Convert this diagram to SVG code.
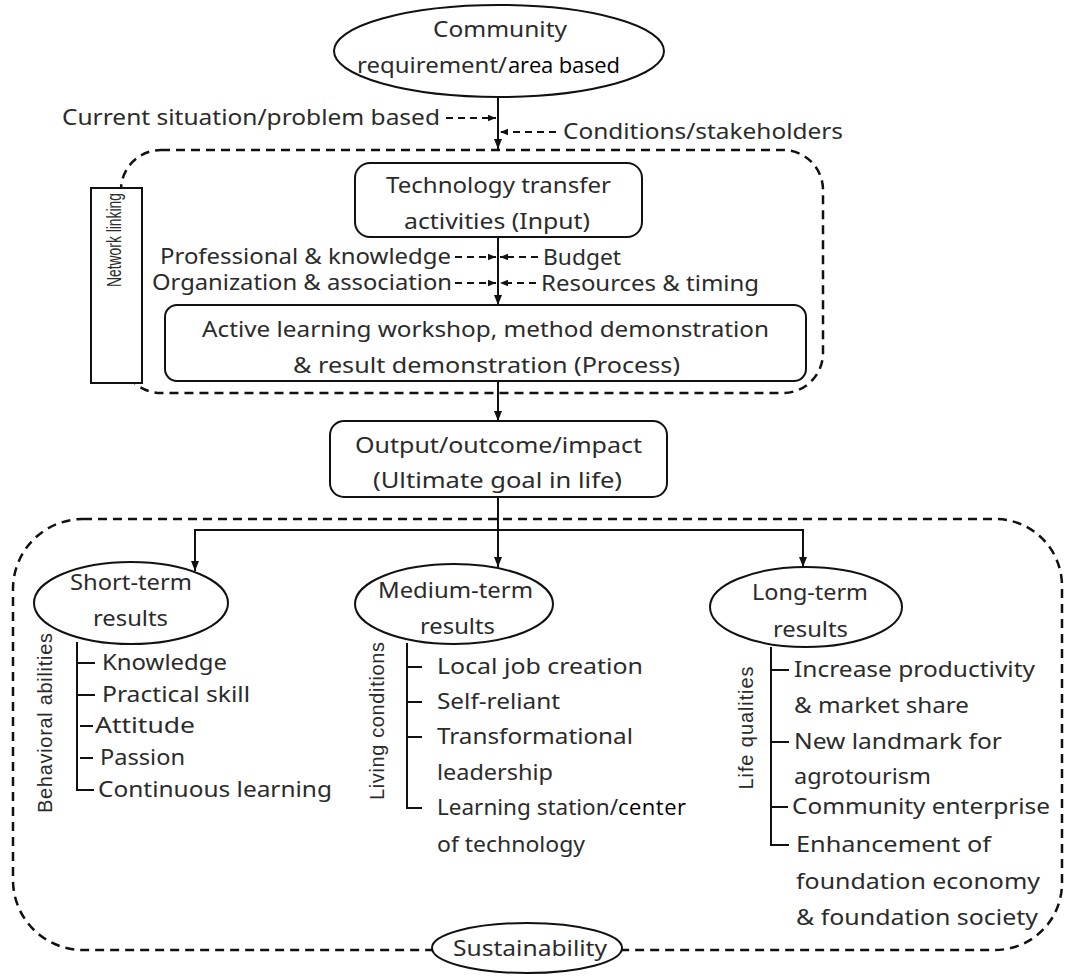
<svg xmlns="http://www.w3.org/2000/svg" width="1065" height="976" viewBox="0 0 1065 976">
<defs>
<style>
.t{font-family:"Noto Sans","Open Sans",sans-serif;font-size:21px;fill:#2b2b2b}
.k{font-family:"Open Sans","Noto Sans",sans-serif;font-size:22px;fill:#000}
.r{font-family:"Liberation Sans",Arial,sans-serif;font-size:20px;fill:#2b2b2b}
.m{text-anchor:middle}
.box{fill:#fff;stroke:#111;stroke-width:2}
.dash{fill:none;stroke:#111;stroke-width:2.5;stroke-dasharray:9 6}
.ln{fill:none;stroke:#111;stroke-width:2}
.dl{fill:none;stroke:#111;stroke-width:2;stroke-dasharray:7 5}
</style>
<marker id="ah" viewBox="0 0 10 10" refX="10" refY="5" markerWidth="10" markerHeight="10" markerUnits="userSpaceOnUse" orient="auto"><path d="M0,1 L10,5 L0,9 z" fill="#111"/></marker>
<marker id="as" viewBox="0 0 10 10" refX="10" refY="5" markerWidth="8" markerHeight="8" markerUnits="userSpaceOnUse" orient="auto"><path d="M0,1 L10,5 L0,9 z" fill="#111"/></marker>
</defs>
<rect width="1065" height="976" fill="#fff"/>

<g id="groups">
<rect id="dashed-top" class="dash" x="121" y="150" width="702" height="243" rx="40"/>
<path id="dashed-bottom" class="dash" d="M83,519 H995 A67,67 0 0 1 1062,586 V883 A67,67 0 0 1 995,950 H83 A70,70 0 0 1 13,880 V589 A70,70 0 0 1 83,519 Z"/>
</g>

<g id="connectors">
<line class="ln" x1="498" y1="97" x2="498" y2="149" marker-end="url(#ah)"/>
<line class="dl" x1="446" y1="118" x2="496" y2="118" marker-end="url(#as)"/>
<line class="dl" x1="556" y1="132" x2="500" y2="132" marker-end="url(#as)"/>
<line class="ln" x1="498" y1="237" x2="498" y2="305" marker-end="url(#ah)"/>
<line class="dl" x1="455" y1="257" x2="496" y2="257" marker-end="url(#as)"/>
<line class="dl" x1="538" y1="257" x2="500" y2="257" marker-end="url(#as)"/>
<line class="dl" x1="455" y1="283" x2="496" y2="283" marker-end="url(#as)"/>
<line class="dl" x1="536" y1="283" x2="500" y2="283" marker-end="url(#as)"/>
<line class="ln" x1="498" y1="381" x2="498" y2="421" marker-end="url(#ah)"/>
<line class="ln" x1="498" y1="497" x2="498" y2="530"/>
<line class="ln" x1="194" y1="530" x2="804" y2="530"/>
<line class="ln" x1="195" y1="529" x2="195" y2="571" marker-end="url(#ah)"/>
<line class="ln" x1="498" y1="530" x2="498" y2="567" marker-end="url(#ah)"/>
<line class="ln" x1="803" y1="529" x2="803" y2="567" marker-end="url(#ah)"/>
<path class="ln" d="M77,642 V790 H94 M77,663 H95 M77,695 H95 M80,726 H93 M80,758 H93"/>
<path class="ln" d="M407,643 V808 H422 M407,667 H422 M407,702 H422 M407,737 H422"/>
<path class="ln" d="M771,647 V845 H789 M771,670 H789 M771,742 H789 M771,807 H788"/>
</g>

<g id="community">
<ellipse class="box" cx="499" cy="51" rx="165" ry="46"/>
<text class="t m" x="500" y="37" textLength="134" lengthAdjust="spacingAndGlyphs">Community</text>
<text class="t" x="357" y="73" textLength="150" lengthAdjust="spacingAndGlyphs">requirement/</text>
<text class="k" x="508" y="73" textLength="112">area based</text>
</g>

<g id="side-labels-top">
<text class="t" x="62" y="125" textLength="378" lengthAdjust="spacingAndGlyphs">Current situation/problem based</text>
<text class="t" x="563" y="139" textLength="280" lengthAdjust="spacingAndGlyphs">Conditions/stakeholders</text>
</g>

<g id="network-linking">
<rect class="box" x="91" y="188" width="51" height="195"/>
<text class="r m" font-size="15" transform="translate(121,240) rotate(-90)" textLength="94" lengthAdjust="spacingAndGlyphs">Network linking</text>
</g>

<g id="tech-transfer">
<rect class="box" x="355" y="163" width="287" height="74" rx="15"/>
<text class="t" x="386" y="193" textLength="225" lengthAdjust="spacingAndGlyphs">Technology transfer</text>
<text class="t" x="404" y="229" textLength="186" lengthAdjust="spacingAndGlyphs">activities (Input)</text>
</g>

<g id="inputs">
<text class="t" x="160" y="264" textLength="291" lengthAdjust="spacingAndGlyphs">Professional &amp; knowledge</text>
<text class="t" x="543" y="265" textLength="78" lengthAdjust="spacingAndGlyphs">Budget</text>
<text class="t" x="152" y="290" textLength="300" lengthAdjust="spacingAndGlyphs">Organization &amp; association</text>
<text class="t" x="541" y="291" textLength="218" lengthAdjust="spacingAndGlyphs">Resources &amp; timing</text>
</g>

<g id="process">
<rect class="box" x="165" y="305" width="641" height="76" rx="12"/>
<text class="t" x="202" y="337" textLength="567" lengthAdjust="spacingAndGlyphs">Active learning workshop, method demonstration</text>
<text class="t" x="293" y="373" textLength="387" lengthAdjust="spacingAndGlyphs">&amp; result demonstration (Process)</text>
</g>

<g id="output">
<rect class="box" x="330" y="421" width="337" height="76" rx="14"/>
<text class="t" x="355" y="453" textLength="287" lengthAdjust="spacingAndGlyphs">Output/outcome/impact</text>
<text class="t" x="373" y="488" textLength="249" lengthAdjust="spacingAndGlyphs">(Ultimate goal in life)</text>
</g>

<g id="short-term">
<ellipse class="box" cx="131" cy="603" rx="97" ry="41"/>
<text class="t" x="70" y="590" textLength="122" lengthAdjust="spacingAndGlyphs">Short-term</text>
<text class="t" x="93" y="626" textLength="75" lengthAdjust="spacingAndGlyphs">results</text>
<text class="r m" transform="translate(52,723) rotate(-90)" textLength="180">Behavioral abilities</text>
<text class="t" x="102" y="670" textLength="125" lengthAdjust="spacingAndGlyphs">Knowledge</text>
<text class="t" x="102" y="702" textLength="148" lengthAdjust="spacingAndGlyphs">Practical skill</text>
<text class="t" x="95" y="733" textLength="100" lengthAdjust="spacingAndGlyphs">Attitude</text>
<text class="t" x="100" y="765" textLength="85" lengthAdjust="spacingAndGlyphs">Passion</text>
<text class="t" x="98" y="797" textLength="234" lengthAdjust="spacingAndGlyphs">Continuous learning</text>
</g>

<g id="medium-term">
<ellipse class="box" cx="454" cy="604" rx="99" ry="40"/>
<text class="t" x="378" y="598" textLength="155" lengthAdjust="spacingAndGlyphs">Medium-term</text>
<text class="t" x="420" y="634" textLength="75" lengthAdjust="spacingAndGlyphs">results</text>
<text class="r m" transform="translate(384,721) rotate(-90)" textLength="158">Living conditions</text>
<text class="t" x="437" y="674" textLength="206" lengthAdjust="spacingAndGlyphs">Local job creation</text>
<text class="t" x="437" y="709" textLength="123" lengthAdjust="spacingAndGlyphs">Self-reliant</text>
<text class="t" x="437" y="744" textLength="196" lengthAdjust="spacingAndGlyphs">Transformational</text>
<text class="t" x="437" y="780" textLength="116" lengthAdjust="spacingAndGlyphs">leadership</text>
<text class="t" x="437" y="815" textLength="181" lengthAdjust="spacingAndGlyphs">Learning station/</text>
<text class="k" x="618" y="815" textLength="68">center</text>
<text class="t" x="437" y="852" textLength="148" lengthAdjust="spacingAndGlyphs">of technology</text>
</g>

<g id="long-term">
<ellipse class="box" cx="806" cy="607" rx="96" ry="40"/>
<text class="t" x="752" y="600" textLength="116" lengthAdjust="spacingAndGlyphs">Long-term</text>
<text class="t" x="773" y="637" textLength="75" lengthAdjust="spacingAndGlyphs">results</text>
<text class="r m" transform="translate(753,728) rotate(-90)" textLength="123">Life qualities</text>
<text class="t" x="794" y="677" textLength="241" lengthAdjust="spacingAndGlyphs">Increase productivity</text>
<text class="t" x="794" y="713" textLength="175" lengthAdjust="spacingAndGlyphs">&amp; market share</text>
<text class="t" x="794" y="749" textLength="208" lengthAdjust="spacingAndGlyphs">New landmark for</text>
<text class="t" x="794" y="784" textLength="137" lengthAdjust="spacingAndGlyphs">agrotourism</text>
<text class="t" x="792" y="814" textLength="258" lengthAdjust="spacingAndGlyphs">Community enterprise</text>
<text class="t" x="796" y="852" textLength="195" lengthAdjust="spacingAndGlyphs">Enhancement of</text>
<text class="t" x="796" y="889" textLength="244" lengthAdjust="spacingAndGlyphs">foundation economy</text>
<text class="t" x="796" y="925" textLength="242" lengthAdjust="spacingAndGlyphs">&amp; foundation society</text>
</g>

<g id="sustainability">
<ellipse class="box" cx="527" cy="948" rx="95" ry="25"/>
<text class="t" x="453" y="956" textLength="154" lengthAdjust="spacingAndGlyphs">Sustainability</text>
</g>
</svg>
